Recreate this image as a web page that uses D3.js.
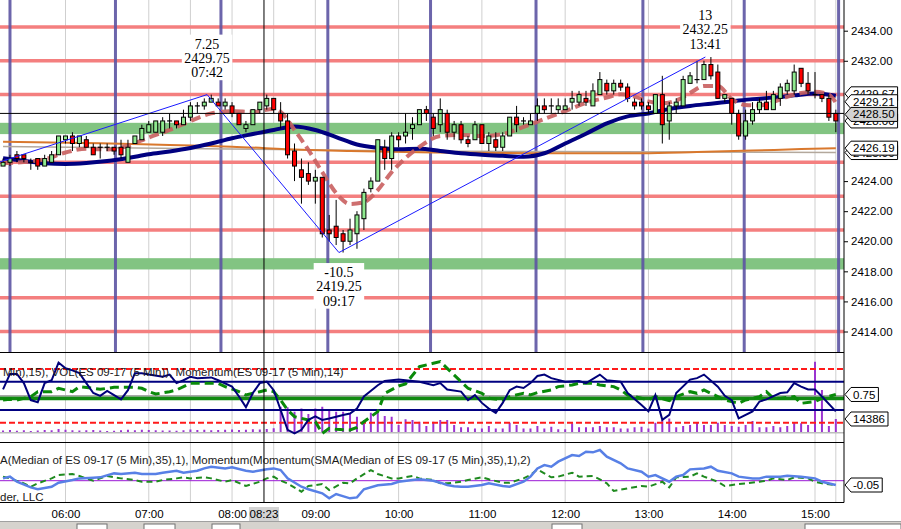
<!DOCTYPE html>
<html lang="en">
<head>
<meta charset="utf-8">
<title>ES 09-17 (5 Min)</title>
<script src="https://d3js.org/d3.v7.min.js"></script>
<style>
  html,body{margin:0;background:#fff}
  svg{display:block}
  .tick text,.axlbl{font:11.5px "Liberation Sans",Arial,sans-serif;fill:#000}
  .ptitle{font:11.5px "Liberation Sans",Arial,sans-serif;fill:#1a1a1a}
  .note{font:14px "Liberation Serif","Times New Roman",serif;fill:#000}
  .flag text{font:11.5px "Liberation Sans",Arial,sans-serif;fill:#000}
</style>
</head>
<body>
<svg id="chart" width="901" height="529"></svg>
<script>
// ---- data (ES 09-17, 5 min bars) ----
const firstBarTime = '05:15';
const barMinutes = 5;

const open = [
  2425.0,2425.25,2425.75,2425.75,2425.25,2425.5,2425.0,2425.25,2425.75,
  2426.75,2427.0,2426.5,2426.75,2426.25,2426.25,2426.25,2426.25,2426.25,2425.25,
  2426.5,2426.75,2427.25,2427.25,2427.25,2428.0,2428.0,2427.75,2428.25,2429.0,
  2429.0,2429.25,2429.25,2429.0,2429.0,2428.5,2427.5,2427.75,2428.75,2429.0,
  2429.5,2428.5,2428.0,2426.0,2424.75,2424.5,2424.0,2424.25,2420.75,2421.0,
  2420.5,2420.0,2420.5,2421.5,2423.5,2424.0,2426.25,2425.5,2427.0,2427.0,
  2427.5,2427.75,2428.75,2428.25,2427.75,2428.5,2427.25,2427.75,2426.75,2426.75,
  2427.75,2426.5,2426.75,2426.25,2427.0,2428.25,2428.0,2427.75,2428.5,2429.0,
  2429.0,2428.75,2428.75,2429.25,2429.25,2429.5,2429.0,2429.75,2430.5,2430.0,
  2430.5,2430.25,2429.25,2429.25,2429.0,2428.5,2429.75,2428.0,2429.0,2429.0,
  2430.5,2430.75,2430.75,2431.75,2431.25,2429.5,2429.5,2428.5,2427.0,2428.0,
  2428.75,2429.25,2428.75,2429.5,2430.0,2430.0,2431.5,2430.5,2429.75,2429.75,
  2429.5,2428.5
];
const high = [
  2425.5,2425.75,2426.0,2425.75,2425.5,2425.5,2425.75,2426.0,2427.0,
  2427.0,2427.25,2427.0,2427.0,2426.5,2426.5,2426.5,2426.25,2426.75,2426.75,
  2427.0,2427.75,2428.0,2428.0,2428.25,2428.5,2428.0,2428.75,2429.25,2429.25,
  2429.5,2429.75,2429.5,2429.5,2429.25,2428.5,2428.0,2428.75,2429.25,2429.75,
  2429.5,2429.25,2428.5,2426.5,2425.5,2425.25,2424.75,2424.25,2421.75,2422.75,
  2420.75,2421.5,2422.0,2423.5,2424.25,2426.75,2426.75,2427.25,2427.25,2428.5,
  2428.25,2428.75,2429.0,2428.5,2429.5,2428.75,2428.0,2428.0,2427.0,2428.0,
  2427.75,2427.25,2427.25,2427.25,2428.25,2429.0,2428.25,2428.5,2429.5,2429.5,
  2429.5,2429.5,2429.5,2430.0,2430.0,2430.0,2430.5,2431.25,2430.75,2430.75,
  2430.75,2430.5,2429.5,2429.5,2429.25,2429.75,2431.0,2429.25,2429.5,2431.0,
  2431.25,2432.0,2432.0,2432.25,2431.75,2429.75,2429.5,2428.75,2428.75,2429.25,
  2429.5,2430.0,2430.0,2430.5,2430.75,2431.75,2431.5,2431.25,2431.25,2429.75,
  2429.75,2428.75
];
const low = [
  2425.0,2425.0,2425.25,2425.25,2424.75,2424.75,2425.0,2425.25,2425.75,
  2426.5,2426.0,2426.25,2426.25,2425.75,2425.5,2426.0,2425.75,2425.5,2425.25,
  2426.5,2426.75,2427.25,2427.25,2427.0,2427.5,2427.5,2427.75,2428.0,2428.5,
  2428.75,2429.25,2429.0,2428.75,2428.25,2427.75,2427.25,2427.75,2428.5,2428.75,
  2428.5,2427.5,2425.5,2424.0,2422.5,2423.75,2422.5,2420.25,2420.0,2419.75,
  2419.25,2419.75,2419.5,2420.75,2423.25,2424.0,2424.75,2424.75,2426.25,2426.5,
  2426.75,2427.75,2428.0,2427.0,2427.25,2426.75,2426.75,2426.5,2426.25,2426.75,
  2426.5,2426.0,2426.0,2426.0,2427.0,2427.25,2427.75,2427.75,2428.0,2428.5,
  2428.5,2428.5,2428.75,2428.75,2429.0,2429.0,2429.0,2429.75,2429.75,2429.75,
  2430.0,2429.25,2428.75,2428.75,2428.5,2428.5,2426.5,2426.75,2428.5,2429.0,
  2430.5,2430.5,2430.75,2430.75,2429.5,2429.25,2427.75,2426.75,2426.75,2427.75,
  2428.5,2428.75,2428.75,2429.0,2429.75,2429.75,2430.25,2429.75,2429.5,2429.25,
  2428.0,2427.25
];
const close = [
  2425.25,2425.5,2425.5,2425.5,2425.25,2425.0,2425.5,2425.75,2427.0,
  2427.0,2426.5,2427.0,2426.25,2425.75,2426.25,2426.25,2426.0,2425.75,2426.25,
  2427.0,2427.5,2427.75,2428.0,2428.0,2428.0,2427.75,2428.25,2429.0,2429.0,
  2429.25,2429.5,2429.0,2429.25,2428.5,2427.75,2427.75,2428.75,2429.25,2429.5,
  2428.75,2428.0,2425.75,2425.0,2424.25,2424.0,2424.25,2420.5,2420.5,2420.25,
  2420.0,2420.75,2421.75,2423.25,2424.0,2426.75,2425.5,2427.0,2426.75,2427.25,
  2427.75,2428.75,2428.5,2427.5,2428.75,2427.25,2427.75,2426.75,2426.5,2427.75,
  2426.5,2427.0,2426.25,2427.0,2428.25,2427.75,2428.0,2428.0,2429.0,2428.75,
  2429.0,2429.0,2429.0,2429.5,2429.75,2429.25,2430.0,2430.75,2430.0,2430.5,
  2430.25,2429.5,2429.0,2429.0,2428.75,2429.75,2427.75,2429.0,2429.25,2430.75,
  2431.0,2430.75,2431.75,2431.0,2429.5,2429.75,2428.5,2427.0,2428.0,2428.75,
  2429.25,2428.75,2429.75,2430.25,2430.5,2431.25,2430.5,2430.0,2429.75,2429.5,
  2428.25,2428.0
];
const volume = [
  2400,2900,2100,2600,1900,2300,2800,2500,3900,
  3100,2700,2300,2600,2900,2200,1800,2100,2500,3000,2700,3200,2900,2600,2400,2200,
  2000,2700,3300,2900,3100,2600,2800,3000,3400,2900,3100,3600,3300,3800,4600,
  27300,26600,22000,25500,19600,25500,27300,23800,22000,22100,20300,16800,13300,
  21000,23800,17500,16800,8100,14000,13300,11600,7000,11600,13300,13300,
  8100,5600,5600,4500,4500,7000,4500,4500,10500,8100,4500,4500,7000,4500,6300,
  3500,3500,9800,5600,5600,5600,7000,5600,5600,4500,4500,5600,6300,4500,10500,
  13300,15000,5600,7000,8100,10500,8100,8100,10500,8100,7000,6300,8100,12300,
  5600,5600,7000,5600,7000,10500,9800,8100,74600,44800,7000,14386
];

// moving averages, sampled along the curves (bar number, 0 = the 06:00 bar)
const slowMaBar = [-9,-6,-3,0,3,6,9,12,15,18,21,24,27,30,33,36,39,42,45,48,51,54,57,60,63,66,69,72,75,78,81,84,87,90,93,96,99,102,105,108,111];
const slowMaVal = [2425.52,2425.35,2425.18,2425.14,2425.2,2425.33,2425.53,2425.78,2425.97,2426.2,2426.5,2426.85,2427.13,2427.4,2427.63,2427.4,2426.93,2426.43,2426.22,2426.12,2426.15,2426.0,2425.85,2425.75,2425.68,2425.62,2425.85,2426.5,2427.15,2427.84,2428.3,2428.5,2428.8,2429.0,2429.15,2429.3,2429.45,2429.55,2429.7,2429.82,2429.67];
const fastMaBar = [-9,-6,-3,0,3,6,9,12,15,18,21,24,27,30,31,33,35,37,39,41,43,45,47,49,51,54,57,60,63,66,69,72,75,78,80,82,84,86,88,90,92,94,96,98,100,102,104,106,108,110,111];
const fastMaVal = [2425.18,2425.27,2425.45,2425.9,2426.15,2426.1,2426.35,2426.9,2427.4,2428.0,2428.5,2428.65,2428.6,2428.8,2428.6,2427.4,2426.07,2424.6,2423.2,2422.48,2422.6,2423.4,2424.6,2425.53,2426.27,2427.0,2427.07,2427.0,2427.13,2427.6,2428.13,2428.65,2429.2,2429.56,2429.77,2429.62,2429.3,2429.17,2429.36,2429.86,2430.32,2430.32,2429.46,2429.06,2429.03,2429.26,2429.6,2429.86,2429.94,2429.76,2429.21];
const longMaBar = [-9,5,15,24,34,41,53,68,83,91,99,106,111];
const longMaVal = [2426.62,2426.52,2426.4,2426.29,2426.08,2426.0,2425.9,2425.85,2425.85,2425.93,2426.03,2426.13,2426.19];
const grayMaBar = [-9,20,50,80,111];
const grayMaVal = [2426.3,2426.15,2426.0,2425.95,2425.9];

// levels and zones
const redLevels = [2414, 2416.25, 2420.75, 2423, 2425.25, 2429.75, 2432, 2434.25];
const greenZones = [2418.5, 2427.5];
const zoneHalf = 0.375;
// 2426, 2428 and 2430 sit under the value flags in the reference
const priceTicks = [2414,2416,2418,2420,2422,2424,2432,2434];
const cycleTimes = ['05:20','06:36','07:52','09:09','10:23','11:39','12:56','14:09','15:17'];
const hourTicks = ['06:00','07:00','08:00','09:00','10:00','11:00','12:00','13:00','14:00','15:00'];
const extraGrid = ['07:30','08:30','15:15'];

// zigzag swings
const pivotTime = ['03:40','07:42','09:17','13:41'];
const pivotPrice = [2422.5, 2429.75, 2419.25, 2432.25];
const swingText = ['', '7.25', '-10.5', '13'];

// crosshair
const crossTime = '08:23';
const crossPrice = 2428.50;

// panel 1: oscillator (navy), momentum 14 (green dashed), volume (purple)
const oscBar = [-9,-8,-7,-6,-5,-4,-3,-2,-1,0,1,2,3,4,5,6,7,8,9,10,11,12,14,15,16,17,18,19,21,22,24,25,26,27,28,29,30,31,32,33,34,35,36,37,38,40,41,42,43,45,46,48,49,51,53,54,55,57,58,59,60,61,62,63,64,65,66,67,68,69,70,72,74,75,77,78,80,81,83,84,85,86,87,88,90,91,92,94,95,96,97,99,100,101,103,104,105,106,107,108,109,111];
const oscVal = [59,81,81,68,44,41,68,72,97,89,86,82,68,54,50,57,51,45,58,82,82,80,77,80,68,72,77,75,76,72,63,49,34,54,68,70,58,30,2,-3,2,16,21,16,18,23,25,32,49,65,71,73,72,70,65,68,59,56,44,51,40,32,26,40,58,63,61,68,78,80,75,70,71,68,80,72,70,54,37,28,51,16,23,54,73,75,80,63,50,44,18,28,42,45,54,55,68,63,59,59,49,28];
const oscInner = [30, 70];
const oscOuter = [12, 88];
const oscMid = 50;
const momBar = [-9,-8,-7,-5,-4,-2,-1,0,1,2,4,5,7,8,10,11,12,13,15,16,18,19,20,22,23,25,26,28,29,30,31,32,33,34,35,36,37,38,39,41,42,43,45,46,48,49,51,53,54,55,57,58,60,61,63,64,66,67,68,70,71,73,74,76,77,79,80,81,83,84,85,87,88,90,91,92,94,95,97,98,100,101,102,103,105,106,108,109,111];
const momVal = [-0.33,-0.2,-0.33,0.33,1.3,1.3,1.96,1.63,1.3,2.29,1.96,1.76,2.16,2.16,2.16,1.96,1.3,0.84,1.3,1.63,2.94,2.94,2.94,2.94,2.29,1.3,0.65,1.3,1.63,1.3,-0.33,-2.3,-3.6,-3.93,-4.25,-4.58,-6.87,-5.89,-6.08,-6.21,-5.69,-4.58,-2.62,0.98,2.41,2.8,6.2,6.86,7.19,5.88,3.26,1.96,0.98,0,-0.33,0.33,0.98,0.65,1.11,1.63,2.29,2.61,2.94,2.94,2.61,2.29,1.63,0.65,0,-0.33,0.33,-0.46,0.33,1.3,0.98,1.63,0.33,-0.33,-0.98,-0.33,0.33,1.3,0,0,0.33,-0.98,-0.65,0,0.75];

// panel 2: Momentum(SMA(Median,35),1) (light blue) and its Momentum(..,2) (green dashed)
const slopeBar = [-9,-8,-7,-5,-4,-2,-1,1,2,4,5,7,8,10,11,13,14,16,17,19,20,21,23,24,26,27,29,30,31,32,34,35,37,38,39,41,42,43,45,47,48,50,51,53,54,55,56,57,58,60,61,63,64,66,67,68,69,70,71,73,74,75,76,77,78,80,81,83,84,85,87,88,89,90,92,93,94,96,97,99,100,101,103,104,106,108,109,111];
const slopeVal = [0.027,0.047,-0.012,-0.078,-0.1,-0.07,-0.023,0.008,0.027,0.035,0.039,0.085,0.078,0.093,0.078,0.078,0.093,0.116,0.093,0.116,0.143,0.163,0.143,0.155,0.116,0.105,0.132,0.143,0.124,0.027,-0.07,-0.1,-0.147,-0.205,-0.155,-0.205,-0.194,-0.1,-0.054,-0.039,-0.012,0.008,0.016,0,-0.023,-0.05,-0.065,-0.07,-0.07,-0.05,-0.031,-0.062,-0.07,-0.012,0.047,0.143,0.182,0.163,0.221,0.298,0.287,0.337,0.33,0.357,0.279,0.202,0.143,0.105,0.047,0.066,-0.012,0.047,0.066,0.132,0.143,0.163,0.116,0.085,0.047,0.027,0.027,0.047,0.047,0.058,0.047,0.027,-0.012,-0.05];
const accBar = [-9,-8,-6,-5,-4,-2,-1,1,2,4,5,6,8,10,11,13,14,16,17,18,20,21,23,24,26,28,29,30,31,32,34,35,37,38,40,41,42,44,45,47,48,50,51,53,54,55,57,58,60,61,63,64,66,67,68,70,71,73,74,76,77,78,79,81,83,84,86,87,88,90,91,92,94,95,97,98,100,101,102,104,105,107,108,109,111];
const accVal = [0.047,0.027,-0.031,-0.07,-0.031,0.027,0.066,0.078,0.054,0,0.027,0.054,0.027,0.008,-0.012,-0.012,0.008,0.027,0.039,0.027,0.039,0.027,-0.012,0.008,-0.062,-0.012,0.027,0.047,0,-0.031,-0.128,-0.062,-0.039,-0.109,-0.023,-0.031,0.027,0.124,0.078,0.027,0.027,0.054,0.027,0.008,-0.031,-0.031,-0.012,0.008,0.039,0.016,-0.023,-0.023,0.027,0.066,0.132,0.039,0.047,0.093,0.047,0.054,0.016,-0.031,-0.12,-0.089,-0.062,-0.07,-0.012,-0.078,0.039,0.047,0.085,0.047,-0.012,-0.062,-0.039,-0.031,-0.012,0,0.027,0.008,0.039,0.027,-0.012,-0.031,-0.05];

const p1Title = 'Min),15), VOL(ES 09-17 (5 Min)), Momentum(ES 09-17 (5 Min),14)';
const p2Title = 'A(Median of ES 09-17 (5 Min),35),1), Momentum(Momentum(SMA(Median of ES 09-17 (5 Min),35),1),2)';
const footer = 'der, LLC';

// ---- layout ----
const axisX = 844;
const mainBox = {top: 0, bottom: 352.5};
const p1Box = {top: 352.5, bottom: 442.5};
const p2Box = {top: 442.5, bottom: 502.5};

const toMin = s => { const [h, m] = s.split(':').map(Number); return (h - 6) * 60 + m; };
const firstBar = toMin(firstBarTime) / barMinutes;

const x = d3.scaleLinear().domain([0, 540]).range([65.5, 815]);
const bx = b => x(b * barMinutes);
const y = d3.scaleLinear().domain([2414, 2434]).range([331.5, 30.7]);
const yOsc = d3.scaleLinear().domain([0, 100]).range([431.2, 360.45]);
const yMom = d3.scaleLinear().domain([-10, 10]).range([449.3, 347.3]);
const yVol = d3.scaleLinear().domain([0, 84000]).range([432.7, 352.7]);
const yP2 = d3.scaleLinear().domain([-0.25, 0.25]).range([502.2, 459.2]);

const svg = d3.select('#chart');
const defs = svg.append('defs');
function clip(id, box){
  defs.append('clipPath').attr('id', id).append('rect')
    .attr('x', 0).attr('y', box.top).attr('width', axisX).attr('height', box.bottom - box.top);
}
clip('cMain', mainBox); clip('cP1', p1Box); clip('cP2', p2Box);

svg.append('rect').attr('width', 901).attr('height', 529).attr('fill', '#fff');

// vertical gridlines through all panels
const grid = svg.append('g').attr('stroke', '#cfcfcf').attr('stroke-width', 1);
hourTicks.concat(extraGrid).forEach(t => {
  grid.append('line').attr('x1', x(toMin(t))).attr('x2', x(toMin(t)))
    .attr('y1', 0).attr('y2', p2Box.bottom);
});

// ---- main price panel ----
const mg = svg.append('g').attr('clip-path', 'url(#cMain)');

mg.selectAll('.lvl').data(redLevels).enter().append('line')
  .attr('x1', 0).attr('x2', axisX).attr('y1', d => y(d)).attr('y2', d => y(d))
  .attr('stroke', '#f47f7f').attr('stroke-width', 3.5);
mg.selectAll('.zone').data(greenZones).enter().append('rect')
  .attr('x', 0).attr('width', axisX)
  .attr('y', d => y(d + zoneHalf)).attr('height', d => y(d - zoneHalf) - y(d + zoneHalf))
  .attr('fill', '#82c482');

mg.selectAll('.cyc').data(cycleTimes).enter().append('line')
  .attr('x1', d => x(toMin(d))).attr('x2', d => x(toMin(d)))
  .attr('y1', mainBox.top).attr('y2', mainBox.bottom)
  .attr('stroke', '#5d55a3').attr('stroke-width', 3).attr('opacity', 0.9);

const pairs = (bars, vals) => bars.map((b, i) => [b, vals[i]]);
const maLine = d3.line().x(d => bx(d[0])).y(d => y(d[1])).curve(d3.curveMonotoneX);

mg.append('path').attr('d', maLine(pairs(grayMaBar, grayMaVal)))
  .attr('fill', 'none').attr('stroke', '#b3a89c').attr('stroke-width', 1.5);
mg.append('path').attr('d', maLine(pairs(longMaBar, longMaVal)))
  .attr('fill', 'none').attr('stroke', '#d9782d').attr('stroke-width', 2);
mg.append('path').attr('d', maLine(pairs(slowMaBar, slowMaVal)))
  .attr('fill', 'none').attr('stroke', '#000080').attr('stroke-width', 4);
mg.append('path').attr('d', maLine(pairs(fastMaBar, fastMaVal)))
  .attr('fill', 'none').attr('stroke', '#c95f5f').attr('stroke-width', 4)
  .attr('stroke-dasharray', '10,5').attr('opacity', 0.9);

// candles
const candles = d3.range(open.length).map(i => ({b: firstBar + i, o: open[i], h: high[i], l: low[i], c: close[i]}));
const cg = mg.append('g');
cg.selectAll('.wick').data(candles).enter().append('line')
  .attr('x1', d => bx(d.b)).attr('x2', d => bx(d.b))
  .attr('y1', d => y(d.h)).attr('y2', d => y(d.l))
  .attr('stroke', '#000').attr('stroke-width', 1);
cg.selectAll('.body').data(candles.filter(d => d.o !== d.c)).enter().append('rect')
  .attr('x', d => bx(d.b) - 2).attr('width', 4)
  .attr('y', d => y(Math.max(d.o, d.c))).attr('height', d => Math.abs(y(d.o) - y(d.c)))
  .attr('fill', d => d.c > d.o ? '#8fea8f' : '#ff0000')
  .attr('stroke', '#000').attr('stroke-width', 1);
cg.selectAll('.doji').data(candles.filter(d => d.o === d.c)).enter().append('line')
  .attr('x1', d => bx(d.b) - 2.5).attr('x2', d => bx(d.b) + 2.5)
  .attr('y1', d => y(d.c)).attr('y2', d => y(d.c))
  .attr('stroke', '#000').attr('stroke-width', 1.2);

// zigzag
const piv = pivotTime.map((t, i) => ({t, m: toMin(t), p: pivotPrice[i], s: swingText[i]}));
mg.append('path')
  .attr('d', d3.line().x(d => x(d.m)).y(d => y(d.p))(piv))
  .attr('fill', 'none').attr('stroke', '#1a1aff').attr('stroke-width', 1);

// crosshair
const cx = x(toMin(crossTime));
mg.append('line').attr('x1', 0).attr('x2', axisX).attr('y1', y(crossPrice)).attr('y2', y(crossPrice))
  .attr('stroke', '#000').attr('stroke-width', 1);

// swing labels
piv.slice(1).forEach((d, i) => {
  const up = d.p > piv[i].p;
  const lines = [d.s, d.p.toFixed(2), d.t];
  const py = y(d.p);
  const first = up ? Math.max(py - 51, 15) : py + 19.5;
  const step = 14.3;
  const g = mg.append('g');
  const bg = g.append('rect').attr('fill', '#fff');
  let w = 0;
  lines.forEach((s, j) => {
    const t = g.append('text').attr('class', 'note').attr('text-anchor', 'middle')
      .attr('x', x(d.m)).attr('y', first + j * step).attr('dy', '0.35em').text(s);
    w = Math.max(w, t.node().getComputedTextLength());
  });
  bg.attr('x', x(d.m) - w / 2 - 2.5).attr('width', w + 5)
    .attr('y', first - 9).attr('height', step * 2 + 17);
});

// ---- panel 1 ----
const g1 = svg.append('g').attr('clip-path', 'url(#cP1)');
g1.selectAll('.vol').data(candles).enter().append('line')
  .attr('x1', d => bx(d.b)).attr('x2', d => bx(d.b))
  .attr('y1', yVol(0)).attr('y2', (d, i) => yVol(volume[i]))
  .attr('stroke', '#9b34d0').attr('stroke-width', 2);
g1.append('line').attr('x1', 0).attr('x2', axisX).attr('y1', yVol(0)).attr('y2', yVol(0))
  .attr('stroke', '#bdbdbd').attr('stroke-width', 1.5);
oscOuter.forEach(v => g1.append('line').attr('x1', 0).attr('x2', axisX)
  .attr('y1', yOsc(v)).attr('y2', yOsc(v))
  .attr('stroke', '#ff1a1a').attr('stroke-width', 2).attr('stroke-dasharray', '6,3'));
oscInner.forEach(v => g1.append('line').attr('x1', 0).attr('x2', axisX)
  .attr('y1', yOsc(v)).attr('y2', yOsc(v))
  .attr('stroke', '#000080').attr('stroke-width', 2));
g1.append('line').attr('x1', 0).attr('x2', axisX).attr('y1', yMom(0)).attr('y2', yMom(0))
  .attr('stroke', '#118a11').attr('stroke-width', 4);
g1.append('line').attr('x1', 0).attr('x2', axisX).attr('y1', yOsc(oscMid)).attr('y2', yOsc(oscMid))
  .attr('stroke', '#a8a8a8').attr('stroke-width', 1.5);
g1.append('path')
  .attr('d', d3.line().x(d => bx(d[0])).y(d => yMom(d[1]))(pairs(momBar, momVal)))
  .attr('fill', 'none').attr('stroke', '#0a8a0a').attr('stroke-width', 3).attr('stroke-dasharray', '9,5');
g1.append('path')
  .attr('d', d3.line().x(d => bx(d[0])).y(d => yOsc(d[1]))(pairs(oscBar, oscVal)))
  .attr('fill', 'none').attr('stroke', '#00007a').attr('stroke-width', 2);
g1.append('text').attr('class', 'ptitle').attr('x', 3).attr('y', 375.5).text(p1Title);

// ---- panel 2 ----
const g2 = svg.append('g').attr('clip-path', 'url(#cP2)');
g2.append('line').attr('x1', 0).attr('x2', axisX).attr('y1', yP2(0)).attr('y2', yP2(0))
  .attr('stroke', '#9a18d6').attr('stroke-width', 1);
g2.append('path')
  .attr('d', d3.line().x(d => bx(d[0])).y(d => yP2(d[1]))(pairs(accBar, accVal)))
  .attr('fill', 'none').attr('stroke', '#1f8a1f').attr('stroke-width', 2).attr('stroke-dasharray', '6,4');
g2.append('path')
  .attr('d', d3.line().x(d => bx(d[0])).y(d => yP2(d[1]))(pairs(slopeBar, slopeVal)))
  .attr('fill', 'none').attr('stroke', '#5880e6').attr('stroke-width', 2.5);
g2.append('text').attr('class', 'ptitle').attr('x', 0).attr('y', 464).text(p2Title);
g2.append('text').attr('class', 'ptitle').attr('x', 0).attr('y', 500.5).text(footer);

// vertical crosshair through all panels
svg.append('line').attr('x1', cx).attr('x2', cx).attr('y1', 0).attr('y2', p2Box.bottom)
  .attr('stroke', '#000').attr('stroke-width', 1);

// panel borders and axis line
[p1Box.top, p2Box.top, p2Box.bottom].forEach(v => svg.append('line')
  .attr('x1', 0).attr('x2', axisX).attr('y1', v).attr('y2', v).attr('stroke', '#000'));
svg.append('line').attr('x1', axisX).attr('x2', axisX).attr('y1', 0).attr('y2', p2Box.bottom)
  .attr('stroke', '#000');

// price axis
svg.append('g').attr('transform', `translate(${axisX},0)`)
  .call(d3.axisRight(y).tickValues(priceTicks).tickFormat(d3.format('.2f')).tickSize(4).tickPadding(3))
  .call(g => g.select('.domain').remove());

// time axis
svg.append('g').attr('transform', `translate(0,${p2Box.bottom})`)
  .call(d3.axisBottom(x).tickValues(hourTicks.map(toMin)).tickFormat((d, i) => hourTicks[i]).tickSize(0).tickPadding(7))
  .call(g => g.select('.domain').remove());
const ct = svg.append('g');
ct.append('rect').attr('x', cx - 15).attr('y', 507).attr('width', 30).attr('height', 14).attr('fill', '#d3d3d3');
ct.append('text').attr('class', 'axlbl').attr('x', cx).attr('y', 514).attr('dy', '0.35em')
  .attr('text-anchor', 'middle').text(crossTime);

// value flags on the right
function flag(yv, txt, fill){
  const g = svg.append('g').attr('class', 'flag');
  const p = g.append('path');
  const t = g.append('text').attr('x', 853).attr('y', yv).attr('dy', '0.35em').text(txt);
  const w = t.node().getComputedTextLength();
  const r = 853 + w + 3;
  p.attr('d', `M${axisX + 1},${yv} L851,${yv - 7} L${r},${yv - 7} L${r},${yv + 7} L851,${yv + 7} Z`)
    .attr('fill', fill).attr('stroke', '#000').attr('stroke-width', 1);
}
const last = a => a[a.length - 1];
flag(y(last(grayMaVal)), last(grayMaVal).toFixed(2), '#fff');
flag(y(last(longMaVal)), last(longMaVal).toFixed(2), '#fff');
flag(y(last(slowMaVal)) - 2, last(slowMaVal).toFixed(2), '#fff');
flag(y(last(fastMaVal)) - 1, last(fastMaVal).toFixed(2), '#fff');
flag(y(last(close)), last(close).toFixed(2), '#fff');
flag(y(crossPrice) + 1, crossPrice.toFixed(2), '#d3d3d3');
flag(yMom(last(momVal)), String(last(momVal)), '#fff');
flag(yVol(last(volume)), String(last(volume)), '#fff');
flag(yP2(last(slopeVal)), last(slopeVal).toFixed(2), '#fff');

// status strip at the bottom
const tb = svg.append('g');
tb.append('rect').attr('x', 0).attr('y', 521).attr('width', 901).attr('height', 8).attr('fill', '#d6d3ce');
tb.append('line').attr('x1', 0).attr('x2', 901).attr('y1', 521.5).attr('y2', 521.5).attr('stroke', '#a0a0a0');
[[77, 30], [144, 31], [212, 28], [552, 30], [805, 96]].forEach(([bxp, bw]) =>
  tb.append('rect').attr('x', bxp).attr('y', 524).attr('width', bw).attr('height', 6)
    .attr('fill', '#fff').attr('stroke', '#707070'));
</script>
</body>
</html>
